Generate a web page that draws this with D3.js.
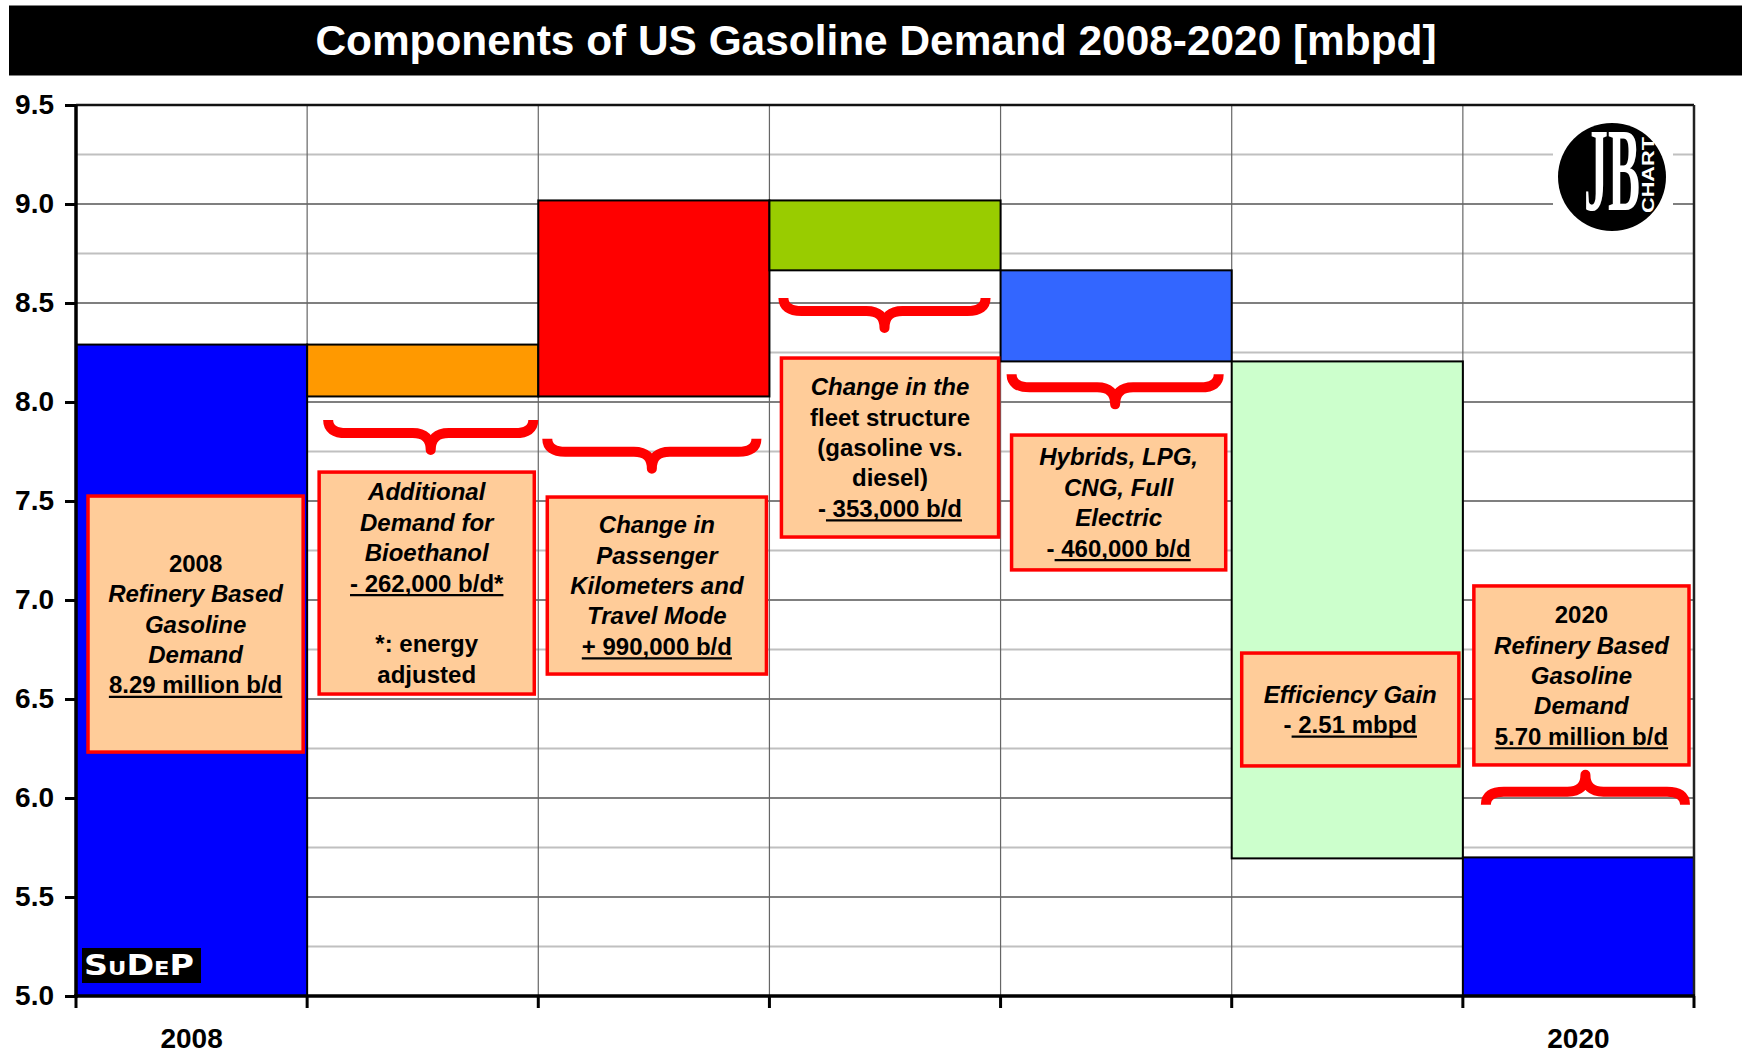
<!DOCTYPE html>
<html>
  <head>
    <meta charset="utf-8">
    <script src="https://d3js.org/d3.v7.min.js"></script>
    <title>Components of US Gasoline Demand 2008-2020</title>
    <style>
      body { margin: 0; background: #fff; }
      text { font-family: "Liberation Sans", Arial, sans-serif; font-weight: bold; }
    </style>
  </head>
  <body>
    <svg id="chart" width="1742" height="1055"></svg>
    <script>
      // data
      const title = 'Components of US Gasoline Demand 2008-2020 [mbpd]';
      const categories = ['2008', '', '', '', '', '', '2020'];
      const startValue = 8.29;
      const deltas = [-0.262, 0.990, -0.353, -0.460, -2.51];
      const endValue = 5.70;
      const barColors = ['#0000FF', '#FF9900', '#FF0000', '#99CC00', '#3366FF', '#CCFFCC', '#0000FF'];
      const yTickValues = [5.0, 5.5, 6.0, 6.5, 7.0, 7.5, 8.0, 8.5, 9.0, 9.5];
      const yMinorValues = [5.25, 5.75, 6.25, 6.75, 7.25, 7.75, 8.25, 8.75, 9.25];

      // annotation text, one entry per box: [text, italic, underlined]
      const boxTexts = [
        [[['2008']], [['Refinery Based', 1]], [['Gasoline', 1]], [['Demand', 1]], [['8.29 million b/d', 0, 1]]],
        [[['Additional', 1]], [['Demand for', 1]], [['Bioethanol', 1]], [['- 262,000 b/d*', 0, 1]], [], [['*: energy']], [['adjusted']]],
        [[['Change in', 1]], [['Passenger', 1]], [['Kilometers and', 1]], [['Travel Mode', 1]], [['+ 990,000 b/d', 0, 1]]],
        [[['Change in the', 1]], [['fleet structure']], [['(gasoline vs.']], [['diesel)']], [['-'], [' 353,000 b/d', 0, 1]]],
        [[['Hybrids, LPG,', 1]], [['CNG, Full', 1]], [['Electric', 1]], [['-'], [' 460,000 b/d', 0, 1]]],
        [[['Efficiency Gain', 1]], [['-'], [' 2.51 mbpd', 0, 1]]],
        [[['2020']], [['Refinery Based', 1]], [['Gasoline', 1]], [['Demand', 1]], [['5.70 million b/d', 0, 1]]]
      ];

      // where the annotations sit: column, top and bottom in chart units
      const boxLayout = [
        { col: 0, top: 7.525, bottom: 6.232, l: 12, r: 4 },
        { col: 1, top: 7.646, bottom: 6.525, l: 12, r: 4 },
        { col: 2, top: 7.520, bottom: 6.626, l: 9, r: 3 },
        { col: 3, top: 8.222, bottom: 7.318, l: 12, r: 2 },
        { col: 4, top: 7.833, bottom: 7.152, l: 11, r: 6 },
        { col: 5, top: 6.732, bottom: 6.162, l: 10, r: 4 },
        { col: 6, top: 7.071, bottom: 6.167, l: 11, r: 5 }
      ];
      const braceLayout = [
        { col: 1, at: 7.843, l: 21, r: 5, dir: 1 },
        { col: 2, at: 7.749, l: 9, r: 13, dir: 1 },
        { col: 3, at: 8.460, l: 14, r: 15, dir: 1 },
        { col: 4, at: 8.074, l: 11, r: 13, dir: 1 },
        { col: 6, at: 6.032, l: 23, r: 9, dir: -1 }
      ];

      const svg = d3.select('#chart');
      const plot = { left: 76, right: 1694, top: 105, bottom: 996 };

      const x = d3.scaleBand()
        .domain(d3.range(categories.length))
        .range([plot.left, plot.right]);
      const y = d3.scaleLinear()
        .domain([5, 9.5])
        .range([plot.bottom, plot.top]);

      // title band
      svg.append('rect')
        .attr('x', 9).attr('y', 5.5).attr('width', 1733).attr('height', 70)
        .attr('fill', '#000');
      svg.append('text')
        .attr('x', 876).attr('y', 55)
        .attr('text-anchor', 'middle')
        .attr('fill', '#fff')
        .style('font-size', '42.4px')
        .text(title);

      svg.append('clipPath').attr('id', 'plotclip')
        .append('rect')
        .attr('x', plot.left).attr('y', plot.top)
        .attr('width', plot.right - plot.left).attr('height', plot.bottom - plot.top);

      // grid
      const grid = svg.append('g');
      grid.selectAll('.minor').data(yMinorValues).enter().append('line')
        .attr('x1', plot.left).attr('x2', plot.right)
        .attr('y1', d => y(d)).attr('y2', d => y(d))
        .attr('stroke', '#C0C0C0').attr('stroke-width', 2);
      grid.selectAll('.major').data(yTickValues.slice(1, -1)).enter().append('line')
        .attr('x1', plot.left).attr('x2', plot.right)
        .attr('y1', d => y(d)).attr('y2', d => y(d))
        .attr('stroke', '#000').attr('stroke-width', 1.2);
      grid.selectAll('.vert').data(d3.range(1, categories.length)).enter().append('line')
        .attr('x1', d => x(d)).attr('x2', d => x(d))
        .attr('y1', plot.top).attr('y2', plot.bottom)
        .attr('stroke', '#666').attr('stroke-width', 1.2);

      // logo, top right
      const logo = svg.append('g');
      logo.append('rect')
        .attr('x', 1553).attr('y', 112).attr('width', 120).attr('height', 126)
        .attr('fill', '#fff');
      logo.append('circle')
        .attr('cx', 1612).attr('cy', 177).attr('r', 54)
        .attr('fill', '#000');
      logo.append('text')
        .attr('x', 1584).attr('y', 210)
        .attr('fill', '#fff')
        .attr('textLength', 56).attr('lengthAdjust', 'spacingAndGlyphs')
        .style('font-family', '"Liberation Serif", serif')
        .style('font-size', '118px')
        .text('JB');
      logo.append('text')
        .attr('transform', 'translate(1654,213) rotate(-90)')
        .attr('fill', '#fff')
        .attr('textLength', 76).attr('lengthAdjust', 'spacingAndGlyphs')
        .style('font-size', '17px')
        .text('CHART');

      // bars of the waterfall
      const bars = [{ lo: 0, hi: startValue }];
      let level = startValue;
      deltas.forEach(d => {
        const next = level + d;
        bars.push({ lo: Math.min(level, next), hi: Math.max(level, next) });
        level = next;
      });
      bars.push({ lo: 0, hi: endValue });

      svg.append('g')
        .attr('clip-path', 'url(#plotclip)')
        .selectAll('rect').data(bars).enter().append('rect')
          .attr('x', (d, i) => x(i))
          .attr('width', x.bandwidth())
          .attr('y', d => y(d.hi))
          .attr('height', d => y(Math.max(d.lo, 4.9)) - y(d.hi))
          .attr('fill', (d, i) => barColors[i])
          .attr('stroke', '#000')
          .attr('stroke-width', 2);

      // frame and axes
      svg.append('line')
        .attr('x1', plot.left).attr('x2', plot.right)
        .attr('y1', plot.top).attr('y2', plot.top)
        .attr('stroke', '#111').attr('stroke-width', 2.5);
      svg.append('line')
        .attr('x1', plot.right).attr('x2', plot.right)
        .attr('y1', plot.top).attr('y2', plot.bottom)
        .attr('stroke', '#222').attr('stroke-width', 2.5);

      const yAxis = d3.axisLeft(y)
        .tickValues(yTickValues)
        .tickFormat(d3.format('.1f'))
        .tickSize(11)
        .tickPadding(11);
      const yAxisG = svg.append('g')
        .attr('transform', `translate(${plot.left},0)`)
        .call(yAxis);
      yAxisG.select('.domain').attr('stroke-width', 3.5).attr('d', `M0,${plot.top}V${plot.bottom + 2}`);
      yAxisG.selectAll('.tick line').attr('stroke-width', 3);
      yAxisG.selectAll('.tick text')
        .attr('fill', '#000')
        .style('font-size', '28px')
        .style('font-family', '"Liberation Sans", Arial, sans-serif');

      const xEdges = d3.range(categories.length + 1).map(i => plot.left + i * x.bandwidth());
      svg.append('line')
        .attr('x1', plot.left - 2).attr('x2', plot.right + 1)
        .attr('y1', plot.bottom).attr('y2', plot.bottom)
        .attr('stroke', '#000').attr('stroke-width', 3.5);
      svg.selectAll('.xtick').data(xEdges).enter().append('line')
        .attr('x1', d => d).attr('x2', d => d)
        .attr('y1', plot.bottom).attr('y2', plot.bottom + 12)
        .attr('stroke', '#000').attr('stroke-width', 3);
      svg.selectAll('.xlabel').data(categories).enter().append('text')
        .attr('x', (d, i) => x(i) + x.bandwidth() / 2)
        .attr('y', 1048)
        .attr('text-anchor', 'middle')
        .style('font-size', '28px')
        .text(d => d);

      // braces
      const bracePath = (x0, x1, yb, dir) => {
        const cx = (x0 + x1) / 2, r = 18, up = 13, tip = 17;
        return `M${x0},${yb - dir * up}` +
          `Q${x0},${yb} ${x0 + r},${yb}` +
          `L${cx - r},${yb}` +
          `Q${cx},${yb} ${cx},${yb + dir * tip}` +
          `Q${cx},${yb} ${cx + r},${yb}` +
          `L${x1 - r},${yb}` +
          `Q${x1},${yb} ${x1},${yb - dir * up}`;
      };
      svg.selectAll('.brace').data(braceLayout).enter().append('path')
        .attr('d', d => bracePath(x(d.col) + d.l, x(d.col) + x.bandwidth() - d.r, y(d.at), d.dir))
        .attr('fill', 'none')
        .attr('stroke', '#FF0000')
        .attr('stroke-width', 10)
        .attr('stroke-linejoin', 'round');

      // annotation boxes
      const lineH = 30.4;
      boxLayout.forEach((b, i) => {
        const x0 = x(b.col) + b.l, x1 = x(b.col) + x.bandwidth() - b.r;
        const y0 = y(b.top), y1 = y(b.bottom);
        const g = svg.append('g');
        g.append('rect')
          .attr('x', x0).attr('y', y0)
          .attr('width', x1 - x0).attr('height', y1 - y0)
          .attr('fill', '#FFCC99')
          .attr('stroke', '#FF0000')
          .attr('stroke-width', 3.5);
        const lines = boxTexts[i];
        const cx = (x0 + x1) / 2;
        const firstBase = (y0 + y1) / 2 - (lines.length - 1) / 2 * lineH + 8.5;
        lines.forEach((parts, k) => {
          if (!parts.length) return;
          const base = firstBase + k * lineH;
          const t = g.append('text')
            .attr('x', cx).attr('y', base)
            .attr('text-anchor', 'middle')
            .style('font-size', '24px');
          const spans = parts.map(p => t.append('tspan')
            .style('font-style', p[1] ? 'italic' : 'normal')
            .text(p[0]));
          const total = t.node().getComputedTextLength();
          let pos = cx - total / 2;
          parts.forEach((p, j) => {
            const w = spans[j].node().getComputedTextLength();
            if (p[2]) {
              g.append('line')
                .attr('x1', pos).attr('x2', pos + w)
                .attr('y1', base + 3.5).attr('y2', base + 3.5)
                .attr('stroke', '#000').attr('stroke-width', 2.2);
            }
            pos += w;
          });
        });
      });

      // SuDeP badge
      svg.append('rect')
        .attr('x', 82).attr('y', 948).attr('width', 119).attr('height', 35)
        .attr('fill', '#000');
      const badge = svg.append('text')
        .attr('x', 84).attr('y', 975)
        .attr('fill', '#fff')
        .attr('textLength', 110).attr('lengthAdjust', 'spacingAndGlyphs')
        .style('font-family', '"DejaVu Sans", sans-serif');
      [['S', 28], ['U', 19], ['D', 28], ['E', 19], ['P', 28]].forEach(p => {
        badge.append('tspan').style('font-size', p[1] + 'px').text(p[0]);
      });
    </script>
  </body>
</html>
